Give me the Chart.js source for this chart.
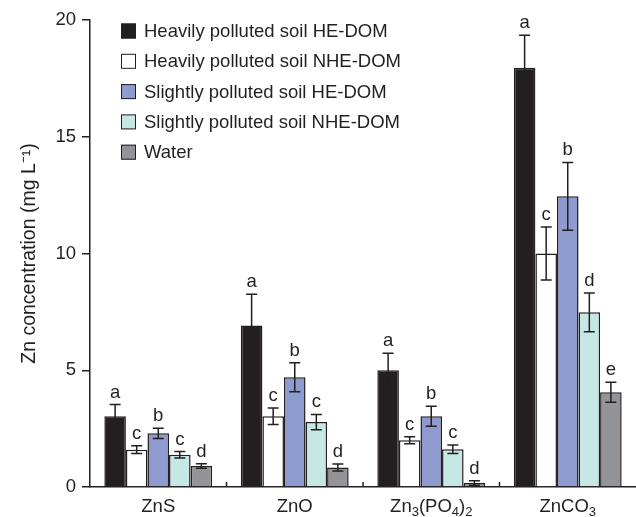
<!DOCTYPE html>
<html lang="en">
  <head>
    <meta charset="UTF-8" />
    <title>Zn concentration by compound</title>
    <style>
      body {
        margin: 0;
        background: #fff;
      }
      #wrap {
        width: 636px;
        height: 517px;
      }
    </style>
    <script src="https://cdn.jsdelivr.net/npm/chart.js"></script>
  </head>
  <body>
    <div id="wrap"><canvas id="znChart"></canvas></div>
    <script>
      // digits in the compound names are drawn as subscripts
      const categories = ["ZnS", "ZnO", "Zn3(PO4)2", "ZnCO3"];
      const seriesNames = [
        "Heavily polluted soil HE-DOM",
        "Heavily polluted soil NHE-DOM",
        "Slightly polluted soil HE-DOM",
        "Slightly polluted soil NHE-DOM",
        "Water",
      ];

      const heavyHE = [3.03, 6.92, 5.0, 17.95];
      const heavyNHE = [1.6, 3.03, 2.0, 10.0];
      const slightHE = [2.3, 4.7, 3.03, 12.45];
      const slightNHE = [1.38, 2.78, 1.62, 7.48];
      const water = [0.9, 0.84, 0.17, 4.06];

      const heavyHEErr = [0.5, 1.33, 0.73, 1.4];
      const heavyNHEErr = [0.17, 0.35, 0.15, 1.13];
      const slightHEErr = [0.22, 0.62, 0.43, 1.45];
      const slightNHEErr = [0.14, 0.33, 0.18, 0.83];
      const waterErr = [0.1, 0.15, 0.1, 0.43];

      const heavyHELetters = ["a", "a", "a", "a"];
      const heavyNHELetters = ["c", "c", "c", "c"];
      const slightHELetters = ["b", "b", "b", "b"];
      const slightNHELetters = ["c", "c", "c", "d"];
      const waterLetters = ["d", "d", "d", "e"];

      const yTicks = [0, 5, 10, 15, 20];

      const values = [heavyHE, heavyNHE, slightHE, slightNHE, water];
      const errors = [heavyHEErr, heavyNHEErr, slightHEErr, slightNHEErr, waterErr];
      const letters = [heavyHELetters, heavyNHELetters, slightHELetters, slightNHELetters, waterLetters];
      const fills = ["#231f20", "#ffffff", "#8e9bcf", "#c5e7e6", "#929497"];

      const ink = "#231f20";
      const family = "'Liberation Sans', Arial, sans-serif";

      const extras = {
        id: "extras",
        afterDatasetsDraw(chart) {
          const ctx = chart.ctx;
          const x = chart.scales.x;
          const y = chart.scales.y;
          const area = chart.chartArea;
          ctx.save();
          ctx.strokeStyle = ink;
          ctx.fillStyle = ink;
          ctx.lineWidth = 1.5;
          ctx.textAlign = "center";
          ctx.font = "18.5px " + family;

          // error bars and significance letters
          chart.data.datasets.forEach((ds, d) => {
            chart.getDatasetMeta(d).data.forEach((bar, i) => {
              const v = ds.data[i];
              const e = errors[d][i];
              const top = y.getPixelForValue(v + e);
              const bot = y.getPixelForValue(v - e);
              ctx.beginPath();
              ctx.moveTo(bar.x, top);
              ctx.lineTo(bar.x, bot);
              ctx.moveTo(bar.x - 5.5, top);
              ctx.lineTo(bar.x + 5.5, top);
              ctx.moveTo(bar.x - 5.5, bot);
              ctx.lineTo(bar.x + 5.5, bot);
              ctx.stroke();
              ctx.fillText(letters[d][i], bar.x, top - 7);
            });
          });

          // small separator ticks between groups
          ctx.beginPath();
          for (let i = 1; i < categories.length; i++) {
            const px = (x.getPixelForValue(i - 1) + x.getPixelForValue(i)) / 2;
            ctx.moveTo(px, area.bottom);
            ctx.lineTo(px, area.bottom - 5);
          }
          ctx.stroke();

          // category labels with subscripts
          ctx.textAlign = "left";
          categories.forEach((name, i) => {
            const parts = name.match(/\d+|\D+/g);
            let w = 0;
            parts.forEach((p) => {
              ctx.font = (/\d/.test(p) ? "13px " : "18.5px ") + family;
              w += ctx.measureText(p).width;
            });
            let px = x.getPixelForValue(i) - w / 2;
            parts.forEach((p) => {
              const sub = /\d/.test(p);
              ctx.font = (sub ? "13px " : "18.5px ") + family;
              ctx.fillText(p, px, area.bottom + 25 + (sub ? 4 : 0));
              px += ctx.measureText(p).width;
            });
          });

          // legend
          ctx.font = "18.5px " + family;
          ctx.textBaseline = "middle";
          ctx.lineWidth = 1;
          chart.data.datasets.forEach((ds, d) => {
            const cy = 31 + d * 30.3;
            ctx.fillStyle = ds.backgroundColor;
            ctx.fillRect(121, cy - 7.5, 15, 15);
            ctx.strokeRect(121.5, cy - 7, 14, 14);
            ctx.fillStyle = ink;
            ctx.fillText(ds.label, 144, cy + 1);
          });
          ctx.restore();
        },
      };

      new Chart(document.getElementById("znChart").getContext("2d"), {
        type: "bar",
        data: {
          labels: categories,
          datasets: seriesNames.map((name, d) => ({
            label: name,
            data: values[d],
            backgroundColor: fills[d],
            borderColor: ink,
            borderWidth: 1.5,
            categoryPercentage: 0.79,
            barPercentage: 1,
          })),
        },
        options: {
          responsive: true,
          maintainAspectRatio: false,
          animation: false,
          layout: { padding: { top: 20, right: 0, bottom: 0, left: 0 } },
          plugins: {
            legend: { display: false },
            tooltip: { enabled: false },
          },
          scales: {
            x: {
              grid: { display: false },
              ticks: { display: false },
              border: { color: ink, width: 1.5 },
              afterFit(scale) {
                scale.height = 30;
              },
            },
            y: {
              min: 0,
              max: 20,
              afterBuildTicks(scale) {
                scale.ticks = yTicks.map((v) => ({ value: v }));
              },
              grid: {
                drawOnChartArea: false,
                drawTicks: true,
                tickLength: 8,
                color: ink,
                lineWidth: 1.5,
              },
              border: { color: ink, width: 1.5 },
              ticks: {
                color: ink,
                padding: 6,
                font: { family: family, size: 18.5 },
              },
              title: {
                display: true,
                text: "Zn concentration (mg L\u207B\u00B9)",
                color: ink,
                font: { family: family, size: 19.5 },
                padding: { top: 18, bottom: 0 },
              },
              afterFit(scale) {
                scale.width = 90;
              },
            },
          },
        },
        plugins: [extras],
      });
    </script>
  </body>
</html>
